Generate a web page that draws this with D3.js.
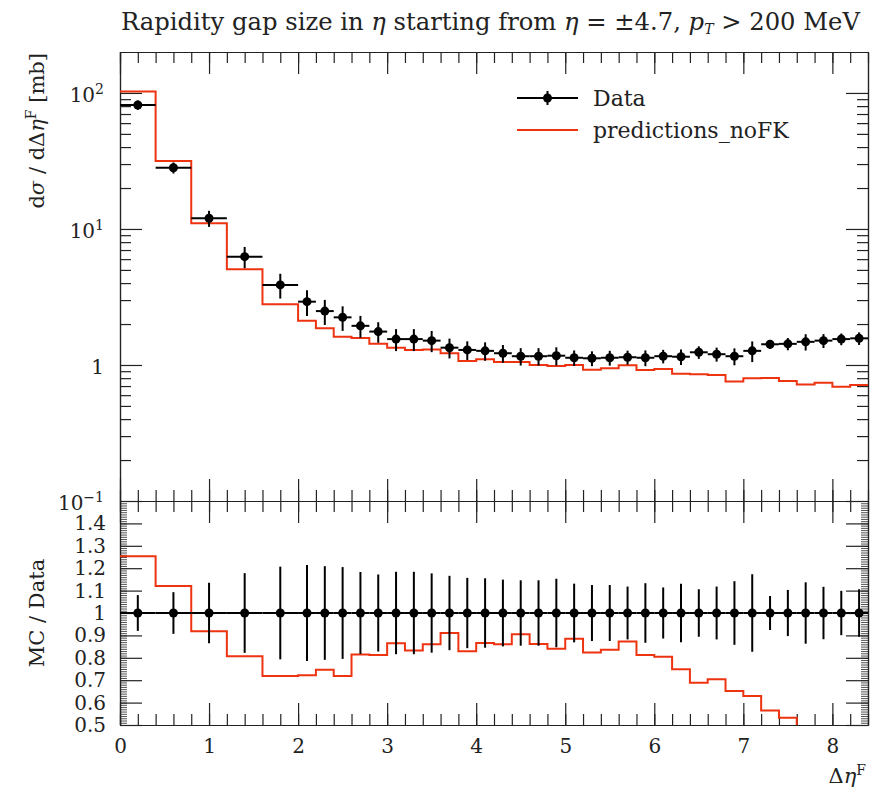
<!DOCTYPE html>
<html>
<head>
<meta charset="utf-8">
<script src="https://cdnjs.cloudflare.com/ajax/libs/d3/7.8.5/d3.min.js"></script>
<style>
  body { margin: 0; background: #fff; }
  text { font-family: "DejaVu Serif", serif; fill: #222; }
</style>
</head>
<body>
<div id="chart"></div>
<script>
// bin edges in delta eta^F
var bin_edges = [0, 0.4, 0.8, 1.2, 1.6, 2.0, 2.2, 2.4, 2.6, 2.8, 3.0, 3.2, 3.4, 3.6, 3.8,
  4.0, 4.2, 4.4, 4.6, 4.8, 5.0, 5.2, 5.4, 5.6, 5.8, 6.0, 6.2, 6.4, 6.6, 6.8,
  7.0, 7.2, 7.4, 7.6, 7.8, 8.0, 8.2, 8.4];

// measured cross section [mb]
var data_vals = [81.6, 28.2, 11.98, 6.26, 3.88, 2.92, 2.49, 2.24, 1.94, 1.76,
  1.55, 1.55, 1.51, 1.34, 1.29, 1.27, 1.22, 1.16, 1.16, 1.17,
  1.13, 1.12, 1.13, 1.14, 1.13, 1.16, 1.15, 1.24, 1.20, 1.16,
  1.27, 1.42, 1.43, 1.48, 1.51, 1.55, 1.57];

// relative uncertainty of the data
var data_err = [0.080, 0.093, 0.135, 0.178, 0.207, 0.214, 0.209, 0.205, 0.183, 0.172,
  0.184, 0.184, 0.177, 0.166, 0.157, 0.155, 0.149, 0.146, 0.146, 0.153,
  0.131, 0.125, 0.125, 0.118, 0.133, 0.114, 0.131, 0.106, 0.118, 0.142,
  0.173, 0.076, 0.103, 0.137, 0.117, 0.099, 0.106];

// predictions_noFK [mb]
var mc_vals = [102.3, 31.6, 11.0, 5.05, 2.79, 2.11, 1.86, 1.61, 1.58, 1.43,
  1.34, 1.29, 1.30, 1.22, 1.07, 1.10, 1.05, 1.05, 1.00, 0.983,
  1.00, 0.923, 0.945, 0.995, 0.918, 0.933, 0.861, 0.854, 0.845, 0.756,
  0.80, 0.802, 0.761, 0.72, 0.741, 0.693, 0.713];

var x_ticks = [0, 1, 2, 3, 4, 5, 6, 7, 8];
var y_top_ticks = [0.1, 1, 10, 100];
var y_top_labels = [["10", "\u22121"], ["1", ""], ["10", "1"], ["10", "2"]];
var ratio_ticks = [0.5, 0.6, 0.7, 0.8, 0.9, 1.0, 1.1, 1.2, 1.3, 1.4];
var ratio_labels = ["0.5", "0.6", "0.7", "0.8", "0.9", "1", "1.1", "1.2", "1.3", "1.4"];

var red = "#ee3311";
var ink = "#222";

var svg = d3.select("#chart")
    .append("svg")
    .attr("width", 873)
    .attr("height", 795);

// scales
var x = d3.scaleLinear().domain([0, 8.4]).range([120, 868]);
var y_top = d3.scaleLog().domain([0.1, 200]).range([501, 52]);
var y_rat = d3.scaleLinear().domain([0.5, 1.5]).range([725, 501]);

var bins = data_vals.map(function(v, i) {
    return {lo: bin_edges[i], hi: bin_edges[i + 1], val: v, err: data_err[i], mc: mc_vals[i]};
});

svg.append("clipPath").attr("id", "clip_rat")
    .append("rect")
    .attr("x", x(0)).attr("y", y_rat(1.5))
    .attr("width", x(8.4) - x(0)).attr("height", y_rat(0.5) - y_rat(1.5));

function style_axis(g) {
    g.attr("font-family", null).attr("font-size", null);
    g.selectAll("path, line").attr("stroke", ink).attr("stroke-width", 1.2);
    g.selectAll("text").attr("font-size", 20).attr("fill", ink);
}

// x ticks on all four horizontal edges
var x_minor = x.ticks(42);
[[52, d3.axisTop], [501, d3.axisBottom], [501, d3.axisTop], [725, d3.axisBottom]].forEach(function(e) {
    svg.append("g")
        .attr("transform", "translate(0," + e[0] + ")")
        .call(e[1](x).tickValues(x_minor).tickSize(-11).tickSizeOuter(0).tickFormat(""))
        .call(style_axis);
    svg.append("g")
        .attr("transform", "translate(0," + e[0] + ")")
        .call(e[1](x).tickValues(x_ticks).tickSize(-22).tickSizeOuter(0).tickFormat(""))
        .call(style_axis);
});

// x tick labels under the ratio panel
svg.append("g")
    .attr("transform", "translate(0,725)")
    .call(d3.axisBottom(x).tickValues(x_ticks).tickSize(0).tickPadding(14).tickFormat(d3.format("d")))
    .call(style_axis)
    .select(".domain").remove();

// log y ticks, left and right
var y_top_minor = y_top.ticks().filter(function(d) {
    return y_top_ticks.indexOf(d) < 0 && d < 200;
});
[[120, d3.axisLeft], [868, d3.axisRight]].forEach(function(e) {
    svg.append("g")
        .attr("transform", "translate(" + e[0] + ",0)")
        .call(e[1](y_top).tickValues(y_top_minor).tickSize(-11).tickSizeOuter(0).tickFormat(""))
        .call(style_axis);
    svg.append("g")
        .attr("transform", "translate(" + e[0] + ",0)")
        .call(e[1](y_top).tickValues(y_top_ticks).tickSize(-22).tickSizeOuter(0).tickFormat(""))
        .call(style_axis);
});

// log y labels with exponents
var ylab = svg.append("g").selectAll("text")
    .data(y_top_ticks)
    .enter()
    .append("text")
    .attr("x", 104)
    .attr("y", function(d) { return y_top(d); })
    .attr("dy", "0.45em")
    .attr("text-anchor", "end")
    .attr("font-size", 20);
ylab.append("tspan").text(function(d, i) { return y_top_labels[i][0]; });
ylab.append("tspan")
    .attr("dy", "-0.55em")
    .attr("font-size", 14)
    .text(function(d, i) { return y_top_labels[i][1]; });

// ratio y ticks, left and right
var rat_minor = y_rat.ticks(100);
[[120, d3.axisLeft], [868, d3.axisRight]].forEach(function(e) {
    svg.append("g")
        .attr("transform", "translate(" + e[0] + ",0)")
        .call(e[1](y_rat).tickValues(rat_minor).tickSize(-7).tickSizeOuter(0).tickFormat(""))
        .call(style_axis)
        .selectAll(".tick line").attr("stroke-width", 0.8);
    svg.append("g")
        .attr("transform", "translate(" + e[0] + ",0)")
        .call(e[1](y_rat).tickValues(ratio_ticks).tickSize(-22).tickSizeOuter(0)
            .tickPadding(14)
            .tickFormat(function(d, i) { return e[0] == 120 ? ratio_labels[i] : ""; }))
        .call(style_axis);
});

// prediction histogram, main panel
var mc_pts = bins.map(function(d) { return {x: d.lo, y: d.mc}; });
mc_pts.push({x: bins[bins.length - 1].hi, y: bins[bins.length - 1].mc});

var top_line = d3.line()
    .x(function(d) { return x(d.x); })
    .y(function(d) { return y_top(d.y); })
    .curve(d3.curveStepAfter);

svg.append("path")
    .attr("d", top_line(mc_pts))
    .attr("fill", "none")
    .attr("stroke", red)
    .attr("stroke-width", 2);

// prediction / data, ratio panel
var rat_pts = bins.map(function(d) { return {x: d.lo, y: d.mc / d.val}; });
rat_pts.push({x: bins[bins.length - 1].hi, y: bins[bins.length - 1].mc / bins[bins.length - 1].val});

var rat_line = d3.line()
    .x(function(d) { return x(d.x); })
    .y(function(d) { return y_rat(d.y); })
    .curve(d3.curveStepAfter);

svg.append("path")
    .attr("d", rat_line(rat_pts))
    .attr("clip-path", "url(#clip_rat)")
    .attr("fill", "none")
    .attr("stroke", red)
    .attr("stroke-width", 2);

// data points, main panel
var pts = svg.append("g").selectAll("g")
    .data(bins)
    .enter()
    .append("g");
pts.append("line")
    .attr("x1", function(d) { return x(d.lo); })
    .attr("x2", function(d) { return x(d.hi); })
    .attr("y1", function(d) { return y_top(d.val); })
    .attr("y2", function(d) { return y_top(d.val); })
    .attr("stroke", "black").attr("stroke-width", 2);
pts.append("line")
    .attr("x1", function(d) { return x((d.lo + d.hi) / 2); })
    .attr("x2", function(d) { return x((d.lo + d.hi) / 2); })
    .attr("y1", function(d) { return y_top(d.val * (1 - d.err)); })
    .attr("y2", function(d) { return y_top(d.val * (1 + d.err)); })
    .attr("stroke", "black").attr("stroke-width", 2);
pts.append("circle")
    .attr("cx", function(d) { return x((d.lo + d.hi) / 2); })
    .attr("cy", function(d) { return y_top(d.val); })
    .attr("r", 4.5)
    .attr("fill", "black");

// data points, ratio panel
var rpts = svg.append("g").attr("clip-path", "url(#clip_rat)")
    .selectAll("g")
    .data(bins)
    .enter()
    .append("g");
rpts.append("line")
    .attr("x1", function(d) { return x(d.lo); })
    .attr("x2", function(d) { return x(d.hi); })
    .attr("y1", y_rat(1)).attr("y2", y_rat(1))
    .attr("stroke", "black").attr("stroke-width", 2);
rpts.append("line")
    .attr("x1", function(d) { return x((d.lo + d.hi) / 2); })
    .attr("x2", function(d) { return x((d.lo + d.hi) / 2); })
    .attr("y1", function(d) { return y_rat(1 - d.err); })
    .attr("y2", function(d) { return y_rat(1 + d.err); })
    .attr("stroke", "black").attr("stroke-width", 2);
rpts.append("circle")
    .attr("cx", function(d) { return x((d.lo + d.hi) / 2); })
    .attr("cy", y_rat(1))
    .attr("r", 4.5)
    .attr("fill", "black");

// legend
var leg = svg.append("g");
leg.append("line").attr("x1", 517).attr("x2", 578).attr("y1", 98).attr("y2", 98)
    .attr("stroke", "black").attr("stroke-width", 2);
leg.append("line").attr("x1", 547.5).attr("x2", 547.5).attr("y1", 91).attr("y2", 105)
    .attr("stroke", "black").attr("stroke-width", 2);
leg.append("circle").attr("cx", 547.5).attr("cy", 98).attr("r", 4.5).attr("fill", "black");
leg.append("line").attr("x1", 517).attr("x2", 578).attr("y1", 130).attr("y2", 130)
    .attr("stroke", red).attr("stroke-width", 2);
leg.append("text").attr("x", 593).attr("y", 98).attr("dy", "0.36em")
    .attr("font-size", 22).text("Data");
leg.append("text").attr("x", 593).attr("y", 130).attr("dy", "0.36em")
    .attr("font-size", 22).text("predictions_noFK");

// title
var title = svg.append("text")
    .attr("x", 121)
    .attr("y", 30)
    .attr("font-size", 20);
title.append("tspan").text("Rapidity gap size in ");
title.append("tspan").attr("font-style", "italic").text("\u03b7");
title.append("tspan").text(" starting from ");
title.append("tspan").attr("font-style", "italic").text("\u03b7");
title.append("tspan").text(" = \u00b14.7, ");
title.append("tspan").attr("font-style", "italic").text("p");
title.append("tspan").attr("font-style", "italic").attr("font-size", 14).attr("dy", 4).text("T");
title.append("tspan").attr("dy", -4).text(" > 200 MeV");
var tw = title.node().getComputedTextLength();
title.attr("font-size", 20 * 741 / tw);

// y axis labels
var ytitle = svg.append("text")
    .attr("transform", "translate(44,53) rotate(-90)")
    .attr("text-anchor", "end")
    .attr("font-size", 21);
ytitle.append("tspan").text("d");
ytitle.append("tspan").attr("font-style", "italic").text("\u03c3");
ytitle.append("tspan").text(" / d\u0394");
ytitle.append("tspan").attr("font-style", "italic").text("\u03b7");
ytitle.append("tspan").attr("font-size", 14).attr("dy", -8).text("F");
ytitle.append("tspan").attr("dy", 8).text(" [mb]");

svg.append("text")
    .attr("transform", "translate(44,613) rotate(-90)")
    .attr("text-anchor", "middle")
    .attr("font-size", 21)
    .text("MC / Data");

// x axis label
var xtitle = svg.append("text")
    .attr("x", 866)
    .attr("y", 783)
    .attr("text-anchor", "end")
    .attr("font-size", 21);
xtitle.append("tspan").text("\u0394");
xtitle.append("tspan").attr("font-style", "italic").text("\u03b7");
xtitle.append("tspan").attr("font-size", 14).attr("dy", -8).text("F");
</script>
</body>
</html>
